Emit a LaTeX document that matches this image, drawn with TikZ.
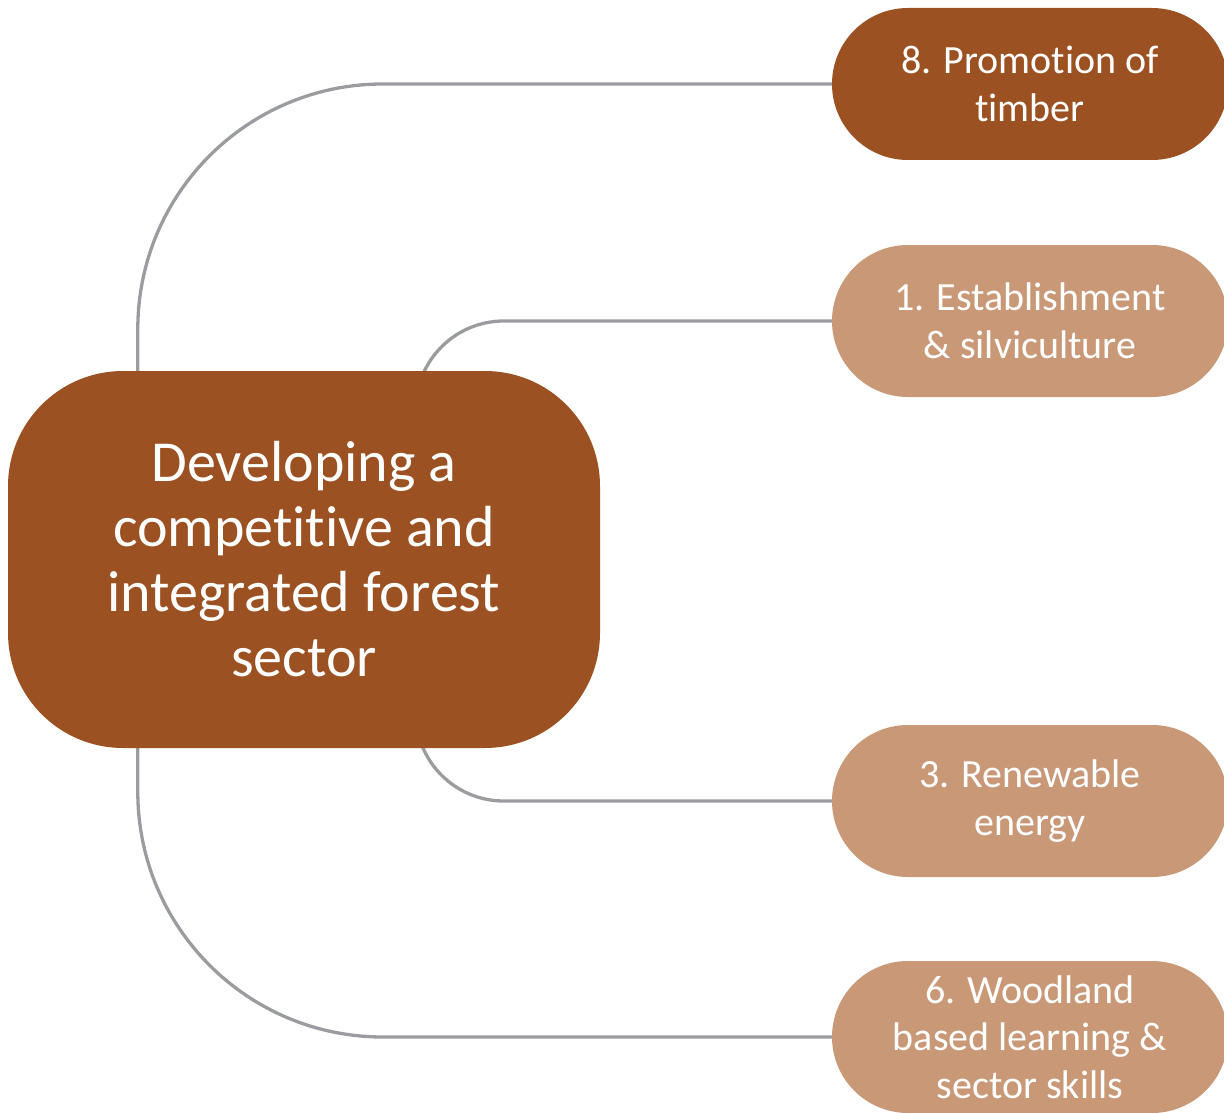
\documentclass[tikz,border=0pt]{standalone}
\usepackage{fontspec}
\setmainfont{Carlito}[Ligatures=NoCommon]
\usetikzlibrary{backgrounds}
\definecolor{barkbrown}{HTML}{9C5122}
\definecolor{sandbrown}{HTML}{C99877}
\definecolor{linkgray}{HTML}{9A9CA0}
\tikzset{
  hubbox/.style={fill=barkbrown, rounded corners=115pt, minimum width=592pt,
    minimum height=377pt, inner sep=0pt, align=center, text=white,
    font=\fontsize{58}{65}\selectfont},
  pillbox/.style={rounded corners=76pt, minimum width=396pt,
    minimum height=152pt, inner sep=0pt, align=center, text=white,
    font=\fontsize{40}{47.5}\selectfont},
  darkpill/.style={pillbox, fill=barkbrown},
  lightpill/.style={pillbox, fill=sandbrown},
  link/.style={draw=linkgray, line width=3.3pt}
}
\begin{document}
\begin{tikzpicture}[x=1pt, y=-1pt]
  \useasboundingbox (0,0) rectangle (1224,1113);

  % central theme
  \node[hubbox] (hub) at (304,559.5)
    {Developing a\\competitive and\\integrated forest\\sector};

  % programme areas
  \node[darkpill]  (p8) at (1030,84)   {8. Promotion of\\timber};
  \node[lightpill] (p1) at (1030,321)  {1. Establishment\\\& silviculture};
  \node[lightpill] (p3) at (1030,801)  {3. Renewable\\energy};
  \node[lightpill] (p6) at (1030,1037) {6. Woodland\\based learning \&\\sector skills};

  % connectors, kept behind the boxes
  \begin{pgfonlayer}{background}
    \draw[link, rounded corners=245pt] ([xshift=130pt]hub.north west) |- (p8.west);
    \draw[link, rounded corners=88pt]  ([xshift=408pt,yshift=-79pt]hub.north west) |- (p1.west);
    \draw[link, rounded corners=88pt]  ([xshift=408pt,yshift=79pt]hub.south west) |- (p3.west);
    \draw[link, rounded corners=245pt] ([xshift=130pt]hub.south west) |- (p6.west);
  \end{pgfonlayer}
\end{tikzpicture}
\end{document}
